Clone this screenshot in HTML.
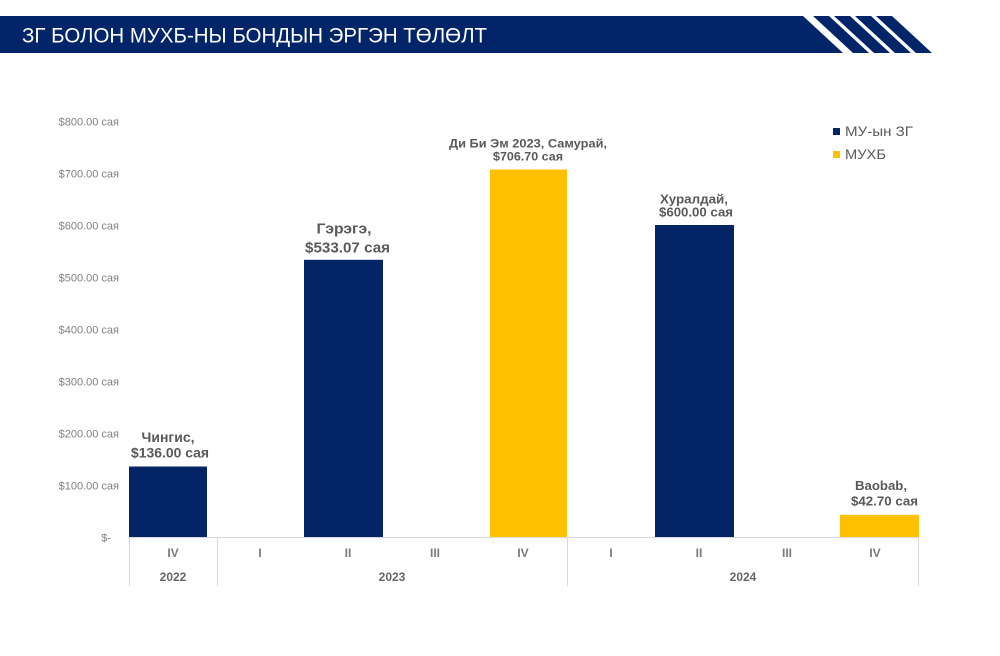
<!DOCTYPE html>
<html><head><meta charset="utf-8"><style>
html,body{margin:0;padding:0;background:#fff;width:1000px;height:656px;overflow:hidden}
svg{display:block}
text{font-family:"Liberation Sans",Arial,sans-serif}
</style></head><body>
<svg width="1000" height="656" viewBox="0 0 1000 656" xmlns="http://www.w3.org/2000/svg">
<!-- header -->
<polygon points="0,16 803,16 843,53 0,53" fill="#022468"/>
<polygon points="813,16 829,16 869,53 853,53" fill="#022468"/>
<polygon points="834,16 850,16 890,53 874,53" fill="#022468"/>
<polygon points="855,16 871,16 911,53 895,53" fill="#022468"/>
<polygon points="876,16 892,16 932,53 916,53" fill="#022468"/>
<text x="22" y="42.5" font-size="21" fill="#ffffff" textLength="465" lengthAdjust="spacingAndGlyphs">ЗГ БОЛОН МУХБ-НЫ БОНДЫН ЭРГЭН ТӨЛӨЛТ</text>

<!-- y axis labels -->
<g font-size="11" fill="#7f7f7f" text-anchor="end">
<text x="119" y="125.5">$800.00 сая</text>
<text x="119" y="177.5">$700.00 сая</text>
<text x="119" y="229.5">$600.00 сая</text>
<text x="119" y="281.5">$500.00 сая</text>
<text x="119" y="333.5">$400.00 сая</text>
<text x="119" y="385.5">$300.00 сая</text>
<text x="119" y="437.5">$200.00 сая</text>
<text x="119" y="489.5">$100.00 сая</text>
<text x="111" y="541.5">$-</text>
</g>

<!-- bars -->
<rect x="129" y="466.5" width="78" height="70.5" fill="#032566"/>
<rect x="304" y="259.8" width="79" height="277.2" fill="#032566"/>
<rect x="490" y="169.5" width="77" height="367.5" fill="#FFC000"/>
<rect x="655" y="225" width="79" height="312" fill="#032566"/>
<rect x="840" y="514.8" width="79" height="22.2" fill="#FFC000"/>

<!-- axis -->
<g stroke="#d9d9d9" stroke-width="1">
<line x1="128" y1="537.5" x2="919" y2="537.5"/>
<line x1="129.5" y1="537" x2="129.5" y2="586"/>
<line x1="217.5" y1="537" x2="217.5" y2="586"/>
<line x1="567.5" y1="537" x2="567.5" y2="586"/>
<line x1="918.5" y1="537" x2="918.5" y2="586"/>
</g>

<!-- category labels -->
<g font-size="12" font-weight="bold" fill="#7a7a7a" text-anchor="middle">
<text x="173" y="557">IV</text>
<text x="260" y="557">I</text>
<text x="348" y="557">II</text>
<text x="435" y="557">III</text>
<text x="523" y="557">IV</text>
<text x="611" y="557">I</text>
<text x="699" y="557">II</text>
<text x="787" y="557">III</text>
<text x="875" y="557">IV</text>
</g>
<g font-size="12" font-weight="bold" fill="#666666" text-anchor="middle">
<text x="173" y="581">2022</text>
<text x="392" y="581">2023</text>
<text x="743" y="581">2024</text>
</g>

<!-- data labels -->
<g font-weight="bold" fill="#595959" text-anchor="middle">
<text x="168" y="442" font-size="14" textLength="53" lengthAdjust="spacingAndGlyphs">Чингис,</text>
<text x="170" y="457.5" font-size="14" textLength="78" lengthAdjust="spacingAndGlyphs">$136.00 сая</text>

<text x="344" y="233.5" font-size="15" textLength="55" lengthAdjust="spacingAndGlyphs">Гэрэгэ,</text>
<text x="347.5" y="252.5" font-size="15" textLength="85" lengthAdjust="spacingAndGlyphs">$533.07 сая</text>

<text x="528" y="147.5" font-size="12" textLength="158" lengthAdjust="spacingAndGlyphs">Ди Би Эм 2023, Самурай,</text>
<text x="528" y="160.5" font-size="12" textLength="70" lengthAdjust="spacingAndGlyphs">$706.70 сая</text>

<text x="694" y="203.5" font-size="13" textLength="68" lengthAdjust="spacingAndGlyphs">Хуралдай,</text>
<text x="696" y="216.5" font-size="13" textLength="74" lengthAdjust="spacingAndGlyphs">$600.00 сая</text>

<text x="881" y="490" font-size="13" textLength="52" lengthAdjust="spacingAndGlyphs">Baobab,</text>
<text x="884.5" y="505.5" font-size="13" textLength="67" lengthAdjust="spacingAndGlyphs">$42.70 сая</text>
</g>

<!-- legend -->
<rect x="833" y="128" width="7" height="7" fill="#032566"/>
<text x="845" y="136" font-size="14" fill="#595959" textLength="68" lengthAdjust="spacingAndGlyphs">МУ-ын ЗГ</text>
<rect x="833" y="151" width="7" height="7" fill="#FFC000"/>
<text x="845" y="159" font-size="14" fill="#595959" textLength="41" lengthAdjust="spacingAndGlyphs">МУХБ</text>
</svg>
</body></html>
